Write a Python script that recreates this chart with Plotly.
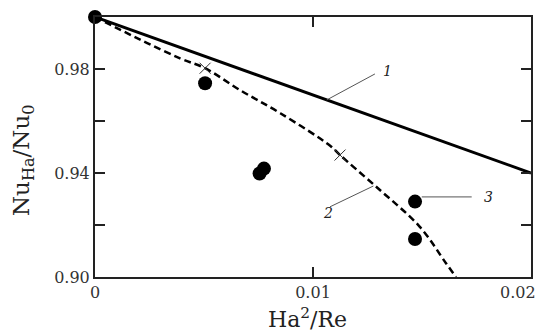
import plotly.graph_objects as go

# Curve 1 (solid)
x1 = [0.0, 0.005, 0.01, 0.015, 0.02]
y1 = [1.0, 0.985, 0.970, 0.955, 0.94]

# Curve 2 (dashed)
x2 = [0.0, 0.0021, 0.0039, 0.00505, 0.00665, 0.0085, 0.0108, 0.01124, 0.0129, 0.0149, 0.0161, 0.01656]
y2 = [1.0, 0.9912, 0.9841, 0.9803, 0.9719, 0.963, 0.9504, 0.9469, 0.9347, 0.9193, 0.9053, 0.90]

# Cross marks on curve 2
xc = [0.00505, 0.01124]
yc = [0.9803, 0.9469]

# Experimental points (3)
x3 = [0.0, 0.00505, 0.00755, 0.00775, 0.01468, 0.01468]
y3 = [1.0, 0.9745, 0.9398, 0.9417, 0.9290, 0.9146]

# Labels and leader lines
lab_text = ["1", "2", "3"]
lab_x = [0.01312, 0.01037, 0.01774]
lab_y = [0.9793, 0.9247, 0.9309]
lead_x0 = [0.01063, 0.01078, 0.01499]
lead_y0 = [0.9681, 0.9270, 0.9308]
lead_x1 = [0.01284, 0.01277, 0.01728]
lead_y1 = [0.9781, 0.9350, 0.9308]

xtick_vals = [0, 0.01, 0.02]
xtick_text = ["0", "0.01", "0.02"]
ytick_vals = [0.90, 0.92, 0.94, 0.96, 0.98]
ytick_text = ["0.90", "", "0.94", "", "0.98"]

x_title = "Ha<sup>2</sup>/Re"
y_title = "Nu<sub>Ha</sub>/Nu<sub>0</sub>"

fnt = "DejaVu Serif"

fig = go.Figure()
fig.add_trace(go.Scatter(x=x1, y=y1, mode="lines", line=dict(color="black", width=3), showlegend=False))
fig.add_trace(go.Scatter(x=x2, y=y2, mode="lines", line=dict(color="black", width=2.5, dash="7px,4px", shape="spline"), showlegend=False))
fig.add_trace(go.Scatter(x=xc, y=yc, mode="markers",
                         marker=dict(symbol="x-thin-open", size=11, color="#333", line=dict(color="#333", width=1)),
                         showlegend=False))
fig.add_trace(go.Scatter(x=x3, y=y3, mode="markers", marker=dict(color="black", size=14), showlegend=False, cliponaxis=False))

for i in range(3):
    fig.add_shape(type="line", x0=lead_x0[i], y0=lead_y0[i], x1=lead_x1[i], y1=lead_y1[i],
                  line=dict(color="#555", width=1))
    fig.add_annotation(x=lab_x[i], y=lab_y[i], text="<i>" + lab_text[i] + "</i>", showarrow=False,
                       xanchor="left", yanchor="middle", font=dict(family=fnt, size=14, color="#222"))

# axis titles
fig.add_annotation(xref="paper", yref="paper", x=0.4885, y=0, yshift=-41, text=x_title, showarrow=False,
                   xanchor="center", yanchor="middle", font=dict(family=fnt, size=22, color="#222"))
fig.add_annotation(xref="paper", yref="paper", x=0, xshift=-72, y=0.45, text=y_title, showarrow=False,
                   textangle=-90, xanchor="center", yanchor="middle", font=dict(family=fnt, size=23, color="#222"))

# the last x tick label sits against the right edge, so it is right-aligned at its tick
xt_last = len(xtick_vals) - 1
fig.add_annotation(x=xtick_vals[xt_last], xref="x", yref="paper", y=0, yshift=-15, xshift=7,
                   text=xtick_text[xt_last], showarrow=False, xanchor="right", yanchor="middle",
                   font=dict(family=fnt, size=16, color="#333"))

axis_common = dict(showline=True, linecolor="#222", linewidth=2, mirror="ticks", ticks="inside",
                   ticklen=10, tickwidth=1.5, tickcolor="#222", showgrid=False, zeroline=False,
                   tickfont=dict(family=fnt, size=16, color="#333"), automargin=False)

fig.update_xaxes(range=[0, 0.02], tickvals=xtick_vals,
                 ticktext=xtick_text[:xt_last] + [""], **axis_common)
fig.update_yaxes(range=[0.90, 1.0], tickvals=ytick_vals, ticktext=ytick_text, **axis_common)

# page body has an 8px margin, so the figure is sized/offset to land the plot where the reference has it
fig.update_layout(width=536, height=323, margin=dict(l=87, r=13, t=9, b=54),
                  plot_bgcolor="white", paper_bgcolor="white")

fig.write_html("out.html")
